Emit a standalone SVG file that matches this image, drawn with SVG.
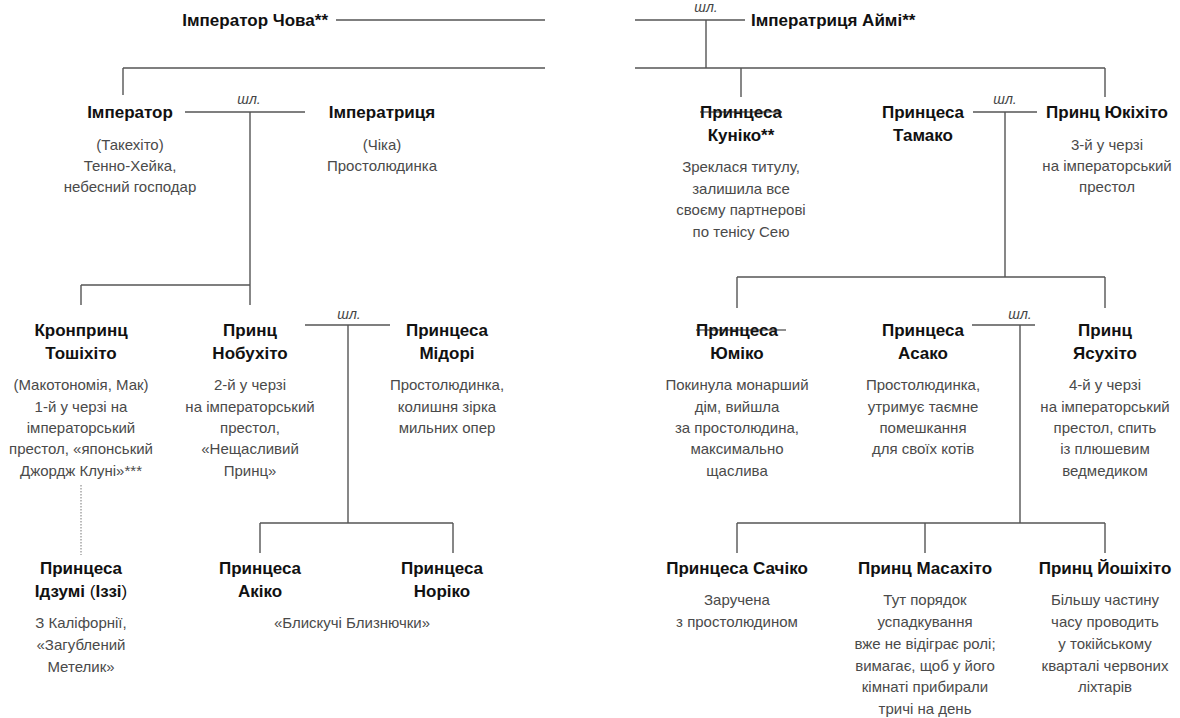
<svg xmlns="http://www.w3.org/2000/svg" width="1180" height="718" viewBox="0 0 1180 718">
<style>
text{font-family:"Liberation Sans",Arial,sans-serif;text-anchor:middle}
.n{font-size:17px;font-weight:bold;fill:#111}
.d{font-size:15px;fill:#4a4a4a}
.m{font-size:14px;font-style:italic;fill:#444}
.l{stroke:#555;stroke-width:1.4;fill:none}
.dot{stroke:#777;stroke-width:1;stroke-dasharray:1.5 1.5;fill:none}
.s{stroke:#222;stroke-width:1.2}
</style>
<rect width="1180" height="718" fill="#fff"/>
<g id="connectors">
<path class="l" d="M336 20H545M635 20H745M706 20V68"/>
<path class="l" d="M123 68H545M123 68V95M635 68H1105M741 68V97M1105 68V97"/>
<path class="l" d="M185 112H305M250 112V305M81 285H250M81 285V305"/>
<path class="l" d="M305 325H390M348 325V523M260 523H453M260 523V553M453 523V553"/>
<path class="dot" d="M81 485V555"/>
<path class="l" d="M973 112H1037M1005 112V277M737 277H1105M737 277V308M1105 277V308"/>
<path class="l" d="M972 325H1035M1020 325V523M737 523H1105M737 523V553M925 523V553M1105 523V553"/>
<text class="m" x="706" y="12">шл.</text>
<text class="m" x="249" y="104">шл.</text>
<text class="m" x="349" y="319">шл.</text>
<text class="m" x="1005" y="104">шл.</text>
<text class="m" x="1020" y="319">шл.</text>
</g>
<g id="chowa"><text class="n" x="328" y="26" style="text-anchor:end">Імператор Чова**</text></g>
<g id="aimi"><text class="n" x="751" y="26" style="text-anchor:start">Імператриця Аймі**</text></g>
<g id="emperor">
<text class="n" x="130" y="118">Імператор</text>
<text class="d" x="130" y="150">(Такехіто)</text>
<text class="d" x="130" y="171">Тенно-Хейка,</text>
<text class="d" x="130" y="192">небесний господар</text>
</g>
<g id="empress">
<text class="n" x="382" y="118">Імператриця</text>
<text class="d" x="382" y="150">(Чіка)</text>
<text class="d" x="382" y="171">Простолюдинка</text>
</g>
<g id="kuniko">
<text class="n" x="741" y="118">Принцеса</text>
<line class="s" x1="700" y1="112" x2="782" y2="112"/>
<text class="n" x="741" y="141">Куніко**</text>
<text class="d" x="741" y="172">Зреклася титулу,</text>
<text class="d" x="741" y="194">залишила все</text>
<text class="d" x="741" y="215">своєму партнерові</text>
<text class="d" x="741" y="237">по тенісу Сею</text>
</g>
<g id="tamako">
<text class="n" x="923" y="118">Принцеса</text>
<text class="n" x="923" y="141">Тамако</text>
</g>
<g id="yukihito">
<text class="n" x="1107" y="118">Принц Юкіхіто</text>
<text class="d" x="1107" y="150">3-й у черзі</text>
<text class="d" x="1107" y="171">на імператорський</text>
<text class="d" x="1107" y="192">престол</text>
</g>
<g id="toshihito">
<text class="n" x="81" y="336">Кронпринц</text>
<text class="n" x="81" y="359">Тошіхіто</text>
<text class="d" x="81" y="390">(Макотономія, Мак)</text>
<text class="d" x="81" y="412">1-й у черзі на</text>
<text class="d" x="81" y="433">імператорський</text>
<text class="d" x="81" y="454">престол, «японський</text>
<text class="d" x="81" y="476">Джордж Клуні»***</text>
</g>
<g id="nobuhito">
<text class="n" x="250" y="336">Принц</text>
<text class="n" x="250" y="359">Нобухіто</text>
<text class="d" x="250" y="390">2-й у черзі</text>
<text class="d" x="250" y="412">на імператорський</text>
<text class="d" x="250" y="433">престол,</text>
<text class="d" x="250" y="454">«Нещасливий</text>
<text class="d" x="250" y="476">Принц»</text>
</g>
<g id="midori">
<text class="n" x="447" y="336">Принцеса</text>
<text class="n" x="447" y="359">Мідорі</text>
<text class="d" x="447" y="390">Простолюдинка,</text>
<text class="d" x="447" y="412">колишня зірка</text>
<text class="d" x="447" y="433">мильних опер</text>
</g>
<g id="yumiko">
<text class="n" x="737" y="336">Принцеса</text>
<line class="s" x1="696" y1="330" x2="786" y2="330"/>
<text class="n" x="737" y="359">Юміко</text>
<text class="d" x="737" y="390">Покинула монарший</text>
<text class="d" x="737" y="412">дім, вийшла</text>
<text class="d" x="737" y="433">за простолюдина,</text>
<text class="d" x="737" y="454">максимально</text>
<text class="d" x="737" y="476">щаслива</text>
</g>
<g id="asako">
<text class="n" x="923" y="336">Принцеса</text>
<text class="n" x="923" y="359">Асако</text>
<text class="d" x="923" y="390">Простолюдинка,</text>
<text class="d" x="923" y="412">утримує таємне</text>
<text class="d" x="923" y="433">помешкання</text>
<text class="d" x="923" y="454">для своїх котів</text>
</g>
<g id="yasuhito">
<text class="n" x="1105" y="336">Принц</text>
<text class="n" x="1105" y="359">Ясухіто</text>
<text class="d" x="1105" y="390">4-й у черзі</text>
<text class="d" x="1105" y="412">на імператорський</text>
<text class="d" x="1105" y="433">престол, спить</text>
<text class="d" x="1105" y="454">із плюшевим</text>
<text class="d" x="1105" y="476">ведмедиком</text>
</g>
<g id="izumi">
<text class="n" x="81" y="574">Принцеса</text>
<text class="n" x="81" y="597">Ідзумі <tspan font-weight="normal">(</tspan>Іззі<tspan font-weight="normal">)</tspan></text>
<text class="d" x="81" y="628">З Каліфорнії,</text>
<text class="d" x="81" y="650">«Загублений</text>
<text class="d" x="81" y="672">Метелик»</text>
</g>
<g id="akiko">
<text class="n" x="260" y="574">Принцеса</text>
<text class="n" x="260" y="597">Акіко</text>
</g>
<g id="noriko">
<text class="n" x="442" y="574">Принцеса</text>
<text class="n" x="442" y="597">Норіко</text>
</g>
<g id="twins-note"><text class="d" x="352" y="628">«Блискучі Близнючки»</text></g>
<g id="sachiko">
<text class="n" x="737" y="574">Принцеса Сачіко</text>
<text class="d" x="737" y="605">Заручена</text>
<text class="d" x="737" y="627">з простолюдином</text>
</g>
<g id="masahito">
<text class="n" x="925" y="574">Принц Масахіто</text>
<text class="d" x="925" y="605">Тут порядок</text>
<text class="d" x="925" y="627">успадкування</text>
<text class="d" x="925" y="649">вже не відіграє ролі;</text>
<text class="d" x="925" y="671">вимагає, щоб у його</text>
<text class="d" x="925" y="692">кімнаті прибирали</text>
<text class="d" x="925" y="714">тричі на день</text>
</g>
<g id="yoshihito">
<text class="n" x="1105" y="574">Принц Йошіхіто</text>
<text class="d" x="1105" y="605">Більшу частину</text>
<text class="d" x="1105" y="627">часу проводить</text>
<text class="d" x="1105" y="649">у токійському</text>
<text class="d" x="1105" y="671">кварталі червоних</text>
<text class="d" x="1105" y="692">ліхтарів</text>
</g>
</svg>
